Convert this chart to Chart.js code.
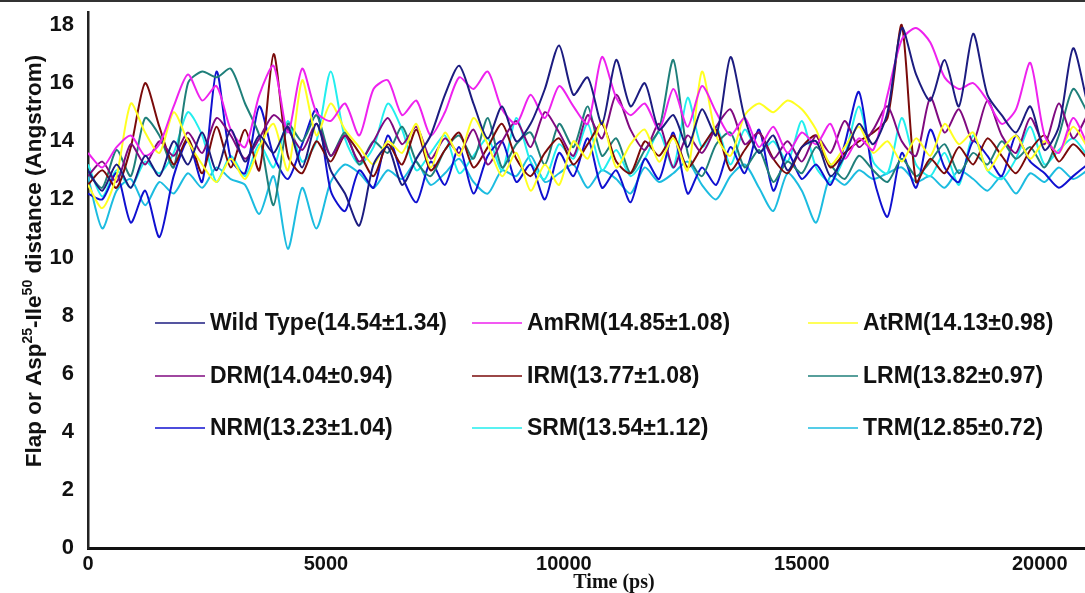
<!DOCTYPE html>
<html><head><meta charset="utf-8">
<script src="https://cdn.jsdelivr.net/npm/chart.js@4.4.1/dist/chart.umd.min.js"></script>
<style>html,body{margin:0;padding:0;background:#fff;}#wrap{width:1085px;height:593px;position:relative;}</style>
</head><body><div id="wrap"><canvas id="c" width="1085" height="593"></canvas></div>
<script>
const times = [0,300,600,900,1200,1500,1800,2100,2400,2700,3000,3300,3600,3900,4200,4500,4800,5100,5400,5700,6000,6300,6600,6900,7200,7500,7800,8100,8400,8700,9000,9300,9600,9900,10200,10500,10800,11100,11400,11700,12000,12300,12600,12900,13200,13500,13800,14100,14400,14700,15000,15300,15600,15900,16200,16500,16800,17100,17400,17700,18000,18300,18600,18900,19200,19500,19800,20100,20400,20700,21000];
const seriesNames = ["Wild Type(14.54±1.34)","AmRM(14.85±1.08)","AtRM(14.13±0.98)","DRM(14.04±0.94)","IRM(13.77±1.08)","LRM(13.82±0.97)","NRM(13.23±1.04)","SRM(13.54±1.12)","TRM(12.85±0.72)"];
const wildType = [13.0,12.3,13.2,12.4,13.5,12.8,14.0,13.2,14.3,13.0,14.4,13.3,14.2,13.6,14.5,13.1,14.6,13.0,12.2,11.1,13.2,13.8,12.5,13.4,14.2,15.6,16.6,15.3,14.1,15.2,14.0,14.6,15.8,17.3,15.6,16.2,14.6,16.8,15.2,16.0,14.4,14.9,13.8,15.1,14.2,16.9,14.8,13.6,14.2,13.0,13.8,14.0,12.8,13.5,14.6,13.9,15.0,17.9,16.3,15.4,16.8,15.2,17.7,15.6,14.9,14.3,15.2,13.7,14.5,17.2,15.3];
const amRM = [13.6,13.1,13.8,14.2,13.5,13.9,15.2,16.3,15.4,15.9,14.4,13.8,15.6,16.6,14.3,16.5,15.0,14.7,15.3,14.2,15.8,16.1,14.9,15.4,14.2,15.0,16.2,15.8,16.4,15.1,14.6,15.6,14.8,15.9,15.2,14.6,16.9,15.5,14.9,15.3,14.4,15.8,14.5,15.9,15.0,14.2,14.8,13.8,14.5,13.6,14.3,13.9,14.6,13.4,14.1,13.7,15.6,17.5,17.9,17.4,16.2,15.8,16.0,15.4,14.6,15.1,16.7,14.2,13.6,14.8,13.9];
const atRM = [12.5,11.7,12.8,15.3,14.3,13.6,15.0,14.0,13.2,12.6,13.4,12.7,13.8,14.6,13.0,16.1,14.2,15.3,14.4,13.8,13.2,14.0,13.6,14.6,13.1,14.3,13.5,14.8,13.9,12.8,13.6,12.3,13.2,12.5,14.0,13.4,14.7,13.1,13.9,14.4,13.3,14.1,13.0,16.4,14.2,13.5,14.9,15.3,15.0,15.4,15.1,14.4,13.2,13.8,14.5,13.6,14.0,13.3,14.1,13.5,14.6,13.9,14.3,13.0,13.7,14.2,13.4,14.0,13.6,14.5,13.8];
const dRM = [12.8,13.3,12.6,13.9,13.2,14.0,13.5,14.3,13.6,14.8,14.2,13.4,14.1,14.9,14.4,13.7,14.6,13.5,14.2,13.3,14.0,14.8,13.9,14.5,13.4,14.1,13.6,14.4,13.2,14.0,14.7,13.8,15.0,14.3,13.5,14.9,14.1,15.6,14.4,13.7,14.6,13.1,14.2,13.6,14.5,15.1,13.9,14.3,13.4,14.0,13.3,14.2,13.6,14.7,13.8,14.4,15.2,14.0,13.5,15.5,14.3,15.1,14.0,15.4,14.2,13.6,14.8,13.9,15.3,14.1,14.9];
const iRM = [12.5,13.0,12.4,13.8,16.0,14.5,13.2,14.1,12.9,14.5,13.1,14.4,13.0,17.0,13.5,12.9,14.0,13.3,14.2,13.6,12.8,13.9,13.2,14.4,13.0,13.7,14.3,13.1,13.8,14.6,13.4,12.8,13.6,14.1,13.2,13.9,14.6,13.3,12.9,14.0,13.5,14.2,13.1,13.8,14.4,13.0,13.7,14.3,13.4,12.9,13.8,14.2,13.1,13.6,14.0,14.3,14.8,18.0,12.6,13.4,12.9,13.8,13.2,14.1,13.5,12.9,13.7,14.2,13.3,13.9,13.4];
const lRM = [12.9,12.4,13.7,12.8,14.8,14.2,13.1,16.0,16.4,16.2,16.5,15.3,14.2,11.8,14.6,14.0,14.9,13.5,14.3,13.2,14.0,13.6,14.5,13.3,12.8,13.7,14.2,13.4,14.8,13.1,13.9,14.3,13.2,14.6,13.8,15.2,13.5,14.1,12.9,13.7,14.4,16.8,13.6,12.8,13.9,14.3,13.1,13.7,12.6,13.3,12.9,13.8,13.2,12.7,13.5,13.0,12.6,13.4,12.8,13.3,13.9,12.9,13.6,13.2,14.0,13.4,13.8,13.1,14.2,15.8,15.0];
const nRM = [12.2,12.0,12.9,11.2,12.3,10.7,12.8,14.0,12.6,16.4,13.4,12.9,15.2,13.5,12.7,13.9,15.1,12.3,11.6,13.0,12.4,14.2,12.8,11.9,13.3,12.5,13.8,12.2,13.5,14.0,12.6,13.2,12.0,13.6,12.8,14.1,12.4,13.0,11.9,13.4,12.7,14.3,12.2,13.1,12.5,13.8,12.9,14.4,12.3,13.6,12.7,13.2,12.5,13.9,15.7,12.8,11.4,13.6,12.4,14.4,13.1,12.6,14.0,13.5,12.8,14.2,13.3,12.9,12.4,12.8,13.2];
const sRM = [13.2,12.1,13.0,12.4,13.3,12.9,13.6,15.0,14.2,12.6,13.5,12.8,13.9,13.1,14.7,13.3,14.0,16.4,14.1,13.2,13.8,15.3,14.4,13.0,13.6,14.2,12.9,13.5,14.1,13.0,14.8,13.3,12.7,13.9,13.4,14.6,13.0,13.7,12.8,13.4,14.3,13.1,15.5,13.8,14.5,13.2,14.4,13.6,14.0,13.3,14.7,13.1,12.6,13.5,15.2,13.3,12.9,14.8,13.2,12.8,13.6,12.5,14.2,13.0,12.7,13.4,14.5,13.2,13.7,14.1,13.5];
const tRM = [12.8,11.0,12.3,12.7,11.8,12.6,12.2,12.9,12.4,13.1,12.7,12.5,11.5,12.8,10.3,12.4,11.0,12.6,13.2,12.9,12.4,13.0,12.7,13.3,12.5,12.9,13.4,12.6,12.2,13.0,12.8,13.5,12.6,12.9,13.2,12.4,13.0,12.7,12.2,13.1,12.6,12.9,13.3,12.5,12.0,12.8,13.2,12.4,11.6,12.9,12.3,11.2,12.8,12.5,13.0,12.7,12.9,13.1,12.6,12.8,12.4,13.0,12.7,12.3,12.8,12.2,12.9,12.6,13.1,12.7,13.0];
const xTicks = [0,5000,10000,15000,20000];
const yTicks = [0,2,4,6,8,10,12,14,16,18];
const xTitle = 'Time (ps)';
const yTitleParts = [['Flap or Asp',false],['25',true],['-Ile',false],['50',true],[' distance (Angstrom)',false]];
const colors = ["#1c1c80","#ee22ee","#ffff22","#800a80","#7a0a0a","#1f7f7a","#1010d0","#22eeee","#1cbce0"];

const allSeries = [wildType,amRM,atRM,dRM,iRM,lRM,nRM,sRM,tRM];
const datasets = allSeries.map((vals,k)=>({
  label: seriesNames[k],
  data: vals.map((v,i)=>({x:times[i],y:v})),
  borderColor: colors[k], backgroundColor: colors[k],
  borderWidth: 2, pointRadius: 0, tension: 0.25, fill:false
}));

const extrasPlugin = {
  id:'extras',
  afterDatasetsDraw(chart){
    const ctx = chart.ctx;
    const colX = [155,472,808];
    const rowY = [323,376,428];
    ctx.save();
    ctx.font = 'bold 23px "Liberation Sans", Arial, sans-serif';
    ctx.textBaseline = 'middle';
    ctx.textAlign = 'left';
    chart.data.datasets.forEach((ds,k)=>{
      const c = k%3, r = Math.floor(k/3);
      const x = colX[c], y = rowY[r];
      ctx.strokeStyle = ds.borderColor; ctx.lineWidth = 1.5;
      ctx.beginPath(); ctx.moveTo(x,y); ctx.lineTo(x+50,y); ctx.stroke();
      ctx.fillStyle = '#111';
      ctx.fillText(ds.label, x+55, y+1);
    });
    // y title with superscripts
    const big = 'bold 22.5px "Liberation Sans", Arial, sans-serif';
    const small = 'bold 14px "Liberation Sans", Arial, sans-serif';
    let total = 0;
    yTitleParts.forEach(([t,sup])=>{ ctx.font = sup?small:big; total += ctx.measureText(t).width; });
    ctx.translate(33, 261);
    ctx.rotate(-Math.PI/2);
    ctx.textBaseline = 'alphabetic';
    ctx.fillStyle = '#111';
    let px = -total/2;
    yTitleParts.forEach(([t,sup])=>{
      ctx.font = sup?small:big;
      ctx.fillText(t, px, sup? -1 : 8);
      px += ctx.measureText(t).width;
    });
    ctx.setTransform(1,0,0,1,0,0);
    // x title
    ctx.font = 'bold 20px "Liberation Serif","Times New Roman",serif';
    ctx.textAlign = 'center'; ctx.textBaseline = 'middle';
    ctx.fillText(xTitle, 614, 583);
    // top border line
    ctx.fillStyle = '#333';
    ctx.fillRect(0,0,chart.width,2);
    ctx.restore();
  }
};

new Chart(document.getElementById('c'), {
  type:'line',
  data:{datasets},
  plugins:[extrasPlugin],
  options:{
    responsive:false, animation:false,
    layout:{padding:{top:12,right:0,left:0,bottom:0}},
    plugins:{legend:{display:false}, tooltip:{enabled:false}},
    scales:{
      x:{type:'linear', min:0, max:20950,
        afterBuildTicks(s){ s.ticks = xTicks.map(v=>({value:v})); },
        afterFit(s){ s.height = 45; s.paddingLeft = 0; s.paddingRight = 0; },
        grid:{display:false, drawTicks:false},
        border:{display:true,color:'#111',width:3},
        ticks:{color:'#111', padding:4, maxRotation:0, autoSkip:false,
          font:{family:'"Liberation Sans Narrow","Liberation Sans",Arial',size:20,weight:'bold'},
          callback:v=>String(v)},
        title:{display:false}
      },
      y:{min:0, max:18.45,
        afterBuildTicks(s){ s.ticks = yTicks.map(v=>({value:v})); },
        afterFit(s){ s.width = 88; s.paddingTop = 0; s.paddingBottom = 0; },
        grid:{display:false, drawTicks:false},
        border:{display:true,color:'#222',width:2.5},
        ticks:{color:'#111', padding:14,
          font:{family:'"Liberation Sans",Arial',size:22,weight:'bold'}},
        title:{display:false}
      }
    }
  }
});
</script></body></html>
